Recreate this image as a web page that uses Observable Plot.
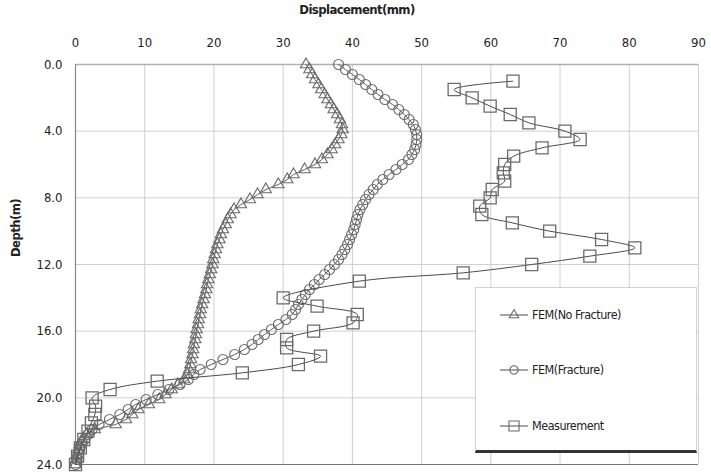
<!DOCTYPE html>
<html>
<head>
<meta charset="utf-8">
<script src="https://cdn.jsdelivr.net/npm/d3@7"></script>
<script src="https://cdn.jsdelivr.net/npm/@observablehq/plot@0.6"></script>
<style>
  body { margin: 0; background: #fff; }
  #wrap { position: relative; width: 711px; height: 474px; overflow: hidden;
          font-family: "Liberation Sans Narrow", "DejaVu Sans Condensed", sans-serif; color: #222; }
  #legend { position: absolute; left: 475px; top: 287px; width: 222px; height: 166px;
            background: #fff; border: 1px solid #d0d0d0; border-bottom: 3px solid #333; box-sizing: border-box; }
  #legend svg { position: absolute; left: 0; top: 0; }
  .ytitle { position: absolute; left: 15px; top: 228px; transform: translate(-50%, -50%) rotate(-90deg);
            font-weight: bold; font-size: 13px; letter-spacing: -0.6px; white-space: nowrap; }
  .xtitle { position: absolute; left: 357px; top: 9px; transform: translate(-50%, -50%);
            font-weight: bold; font-size: 13px; letter-spacing: -0.6px; white-space: nowrap; }
</style>
</head>
<body>
<div id="wrap">
  <div class="xtitle">Displacement(mm)</div>
  <div class="ytitle">Depth(m)</div>
</div>
<script>
// Axis ticks
const xTicks = [0, 10, 20, 30, 40, 50, 60, 70, 80, 90];
const yTicks = [0, 4, 8, 12, 16, 20, 24];

// FEM node depths (m)
const femDepth = [
  0.0, 0.3, 0.6, 0.9, 1.2, 1.5, 1.8, 2.1, 2.4, 2.7, 3.0, 3.3, 3.6, 3.9, 4.2, 4.5, 4.8,
  5.1, 5.4, 5.7, 6.0, 6.3, 6.6, 6.9, 7.2, 7.5, 7.8, 8.1, 8.4, 8.7, 9.0, 9.3, 9.6, 9.9,
  10.2, 10.5, 10.8, 11.1, 11.4, 11.7, 12.0, 12.3, 12.6, 12.9, 13.2, 13.5, 13.8, 14.1,
  14.4, 14.7, 15.0, 15.3, 15.6, 15.9, 16.2, 16.5, 16.8, 17.1, 17.4, 17.7, 18.0, 18.3,
  18.6, 18.9, 19.2, 19.5, 19.8, 20.1, 20.4, 20.7, 21.0, 21.3, 21.6, 21.9, 22.2, 22.5,
  22.8, 23.1, 23.4, 23.7, 24.0
];

// FEM, no fracture: displacement (mm) at each node depth
const noFractureDisp = [
  33.3, 33.8, 34.2, 34.6, 35.1, 35.5, 36.0, 36.4, 36.9, 37.3, 37.8, 38.2, 38.5, 38.6, 38.4, 38.0, 37.5,
  37.0, 36.4, 35.6, 34.6, 33.1, 31.5, 30.6, 29.3, 27.5, 26.3, 25.2, 23.9, 22.9, 22.4, 22.0, 21.7, 21.3,
  21.0, 20.8, 20.5, 20.3, 20.1, 19.9, 19.8, 19.6, 19.4, 19.2, 19.0, 18.9, 18.7, 18.5,
  18.3, 18.1, 18.0, 17.8, 17.7, 17.5, 17.4, 17.3, 17.1, 17.0, 16.9, 16.7, 16.6, 16.4,
  16.2, 15.7, 14.8, 13.9, 13.0, 12.1, 10.6, 9.1, 8.2, 7.3, 5.8, 2.8, 1.6, 1.0,
  0.6, 0.4, 0.2, 0.1, 0.0
];

// FEM, with fracture: displacement (mm) at each node depth
const fractureDisp = [
  38.0, 39.0, 40.0, 41.0, 41.9, 42.8, 43.7, 44.7, 45.8, 46.7, 47.5, 48.2, 48.8, 49.1, 49.3, 49.3, 49.2,
  49.0, 48.6, 48.1, 47.2, 46.3, 45.3, 44.4, 43.6, 43.0, 42.4, 41.9, 41.5, 41.1, 40.8, 40.6, 40.4, 40.2,
  39.9, 39.6, 39.3, 38.9, 38.5, 38.0, 37.4, 36.7, 36.0, 35.2, 34.5, 33.8, 33.2, 32.7,
  32.2, 31.8, 31.3, 30.4, 29.3, 28.3, 27.3, 26.4, 25.5, 24.4, 23.0, 21.3, 19.6, 18.0,
  17.1, 16.3, 15.1, 13.5, 11.9, 10.2, 8.7, 7.6, 6.4, 4.9, 3.4, 2.4, 1.8, 1.3,
  0.9, 0.6, 0.4, 0.2, 0.0
];

// Inclinometer readings
const measDepth = [
  1.0, 1.5, 2.0, 2.5, 3.0, 3.5, 4.0, 4.5, 5.0, 5.5, 6.0, 6.5, 7.0, 7.5, 8.0, 8.5, 9.0, 9.5,
  10.0, 10.5, 11.0, 11.5, 12.0, 12.5, 13.0, 14.0, 14.5, 15.0, 15.5, 16.0, 16.5, 17.0, 17.5,
  18.0, 18.5, 19.0, 19.5, 20.0, 20.5, 21.0, 21.5, 22.0, 22.5, 23.0, 23.5, 24.0
];
const measDisp = [
  63.2, 54.7, 57.3, 59.9, 62.8, 65.5, 70.7, 72.9, 67.4, 63.3, 62.0, 61.8, 62.0, 60.2, 59.9, 58.4, 58.7, 63.1,
  68.5, 76.0, 80.8, 74.3, 65.9, 56.0, 41.0, 30.0, 34.9, 40.7, 40.1, 34.4, 30.5, 30.5, 35.4,
  32.2, 24.1, 11.8, 5.0, 2.4, 2.9, 2.8, 2.3, 1.8, 1.2, 0.7, 0.3, 0.0
];

const seriesNames = ["FEM(No Fracture)", "FEM(Fracture)", "Measurement"];

const noFrac = femDepth.map((d, i) => ({depth: d, disp: noFractureDisp[i]}));
const frac = femDepth.map((d, i) => ({depth: d, disp: fractureDisp[i]}));
const meas = measDepth.map((d, i) => ({depth: d, disp: measDisp[i]}));

const lineColor = "#4a4a4a";
const markColor = "#6a6a6a";

const chart = Plot.plot({
  width: 711,
  height: 474,
  marginTop: 64,
  marginLeft: 75,
  marginRight: 13,
  marginBottom: 10,
  style: {
    fontFamily: '"Liberation Sans Narrow", "DejaVu Sans Condensed", sans-serif',
    fontSize: "13px",
    color: "#222",
    background: "transparent"
  },
  x: {domain: [0, 90]},
  y: {domain: [0, 24], reverse: true},
  marks: [
    Plot.gridX(xTicks.slice(1), {stroke: "#cfcfcf", strokeOpacity: 1}),
    Plot.gridY(yTicks.slice(1, -1), {stroke: "#cfcfcf", strokeOpacity: 1}),
    Plot.ruleY([0], {stroke: "#b0b0b0", strokeWidth: 1.5}),
    Plot.ruleY([24], {stroke: "#777", strokeWidth: 1.2}),
    Plot.ruleX([0], {stroke: "#888", strokeWidth: 1.2}),
    Plot.axisX({anchor: "top", ticks: xTicks, tickSize: 0, tickPadding: 18, label: null,
                tickFormat: d3.format("d")}),
    Plot.axisY({anchor: "left", ticks: yTicks, tickSize: 0, tickPadding: 13, label: null,
                tickFormat: d3.format(".1f")}),
    // FEM without fracture
    Plot.line(noFrac, {x: "disp", y: "depth", stroke: lineColor, strokeWidth: 0.9}),
    Plot.dot(noFrac, {x: "disp", y: "depth", symbol: "triangle", r: 4.2, fill: "none",
                      stroke: markColor, strokeWidth: 1.1}),
    // FEM with fracture
    Plot.line(frac, {x: "disp", y: "depth", stroke: lineColor, strokeWidth: 0.9}),
    Plot.dot(frac, {x: "disp", y: "depth", symbol: "circle", r: 5, fill: "none",
                    stroke: markColor, strokeWidth: 1.1}),
    // Field measurement
    Plot.line(meas, {x: "disp", y: "depth", curve: "catmull-rom", stroke: lineColor, strokeWidth: 1}),
    Plot.dot(meas, {x: "disp", y: "depth", symbol: "square", r: 6.8, fill: "none",
                    stroke: markColor, strokeWidth: 1.3})
  ]
});

const wrap = document.getElementById("wrap");
chart.style.position = "absolute";
chart.style.left = "0";
chart.style.top = "0";
wrap.insertBefore(chart, wrap.firstChild);

// Legend box
const legend = document.createElement("div");
legend.id = "legend";
wrap.appendChild(legend);
const lsvg = d3.select(legend).append("svg").attr("width", 222).attr("height", 164);
const symbols = [
  {type: d3.symbolTriangle, size: Math.PI * 4.2 * 4.2},
  {type: d3.symbolCircle, size: Math.PI * 5 * 5},
  {type: d3.symbolSquare, size: Math.PI * 6.8 * 6.8}
];
const rowY = [27, 82, 138];
seriesNames.forEach((name, i) => {
  const g = lsvg.append("g").attr("transform", `translate(0, ${rowY[i]})`);
  g.append("line").attr("x1", 24).attr("x2", 52).attr("y1", 0).attr("y2", 0)
    .attr("stroke", lineColor).attr("stroke-width", 1);
  g.append("path").attr("transform", "translate(38,0)")
    .attr("d", d3.symbol(symbols[i].type, symbols[i].size * 0.7)())
    .attr("fill", "none").attr("stroke", markColor).attr("stroke-width", 1.1);
  g.append("text").attr("x", 56).attr("y", 0).attr("dy", "0.35em")
    .attr("font-size", 12.5).attr("letter-spacing", "-0.5px").attr("fill", "#222")
    .attr("font-family", '"Liberation Sans Narrow", "DejaVu Sans Condensed", sans-serif')
    .text(name);
});
</script>
</body>
</html>
